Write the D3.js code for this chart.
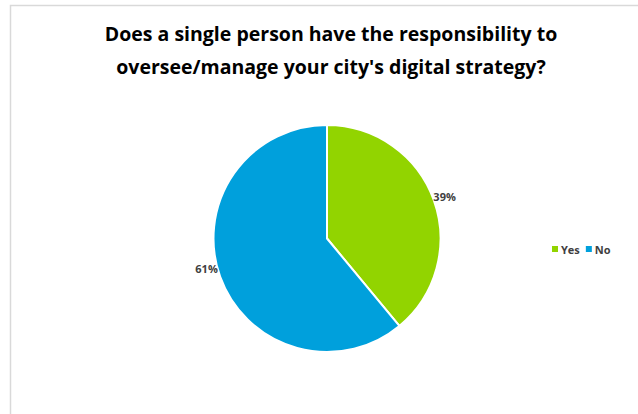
<!DOCTYPE html>
<html>
<head>
<meta charset="utf-8">
<script src="https://cdn.jsdelivr.net/npm/d3@7"></script>
<style>
  html, body { margin: 0; padding: 0; background: #fff; }
  svg { display: block; }
</style>
</head>
<body>
<svg id="chart" width="638" height="414"></svg>
<script>
// Survey answers
const categories = ["Yes", "No"];
const shares = [39, 61];
const colors = ["#92D400", "#00A0DC"];
const titleLines = [
  "Does a single person have the responsibility to",
  "oversee/manage your city's digital strategy?"
];

const svg = d3.select("#chart");
const W = 638, H = 414;

// chart frame
svg.append("rect")
  .attr("x", 10.5).attr("y", 5.5)
  .attr("width", W + 10).attr("height", H + 10)
  .attr("fill", "#fff")
  .attr("stroke", "#D9D9D9").attr("stroke-width", 1.5);

// title
const title = svg.append("text")
  .attr("text-anchor", "middle")
  .attr("font-family", "'Open Sans', 'Liberation Sans', sans-serif")
  .attr("font-weight", "bold")
  .attr("font-size", 19.5)
  .attr("fill", "#000");
titleLines.forEach((line, i) => {
  title.append("tspan")
    .attr("x", 331)
    .attr("y", 41 + i * 33)
    .text(line);
});

// pie
const cx = 327, cy = 238.5, r = 113.5;
const data = categories.map((c, i) => ({ cat: c, value: shares[i] }));
const color = d3.scaleOrdinal().domain(categories).range(colors);
const pie = d3.pie().value(d => d.value).sort(null);
const arcs = pie(data);
const arc = d3.arc().innerRadius(0).outerRadius(r);

const g = svg.append("g").attr("transform", `translate(${cx},${cy})`);
g.selectAll("path.slice")
  .data(arcs)
  .join("path")
  .attr("class", "slice")
  .attr("d", arc)
  .attr("fill", d => color(d.data.cat))
  .attr("stroke", "#fff")
  .attr("stroke-width", 2)
  .attr("stroke-linejoin", "round");

// value labels outside the slices
g.selectAll("text.value")
  .data(arcs)
  .join("text")
  .attr("class", "value")
  .attr("font-family", "'Open Sans', 'Liberation Sans', sans-serif")
  .attr("font-weight", "bold")
  .attr("font-size", 11)
  .attr("fill", "#404040")
  .attr("text-anchor", "middle")
  .attr("dominant-baseline", "central")
  .attr("transform", d => {
    const a = (d.startAngle + d.endAngle) / 2;
    const right = Math.sin(a) >= 0;
    const lr = right ? 125 : 128;
    const x = lr * Math.sin(a);
    const y = -lr * Math.cos(a) + (right ? 0 : -13);
    return `translate(${x},${y})`;
  })
  .text(d => d.data.value + "%");

// legend
const legend = svg.append("g").attr("transform", "translate(552,249)");
let lx = 0;
categories.forEach((c, i) => {
  legend.append("rect")
    .attr("x", lx).attr("y", -3)
    .attr("width", 6).attr("height", 6)
    .attr("fill", color(c));
  const t = legend.append("text")
    .attr("x", lx + 9).attr("y", 0)
    .attr("dominant-baseline", "central")
    .attr("font-family", "'Open Sans', 'Liberation Sans', sans-serif")
    .attr("font-weight", "bold")
    .attr("font-size", 11)
    .attr("fill", "#404040")
    .text(c);
  lx += 9 + t.node().getComputedTextLength() + 6;
});
</script>
</body>
</html>
